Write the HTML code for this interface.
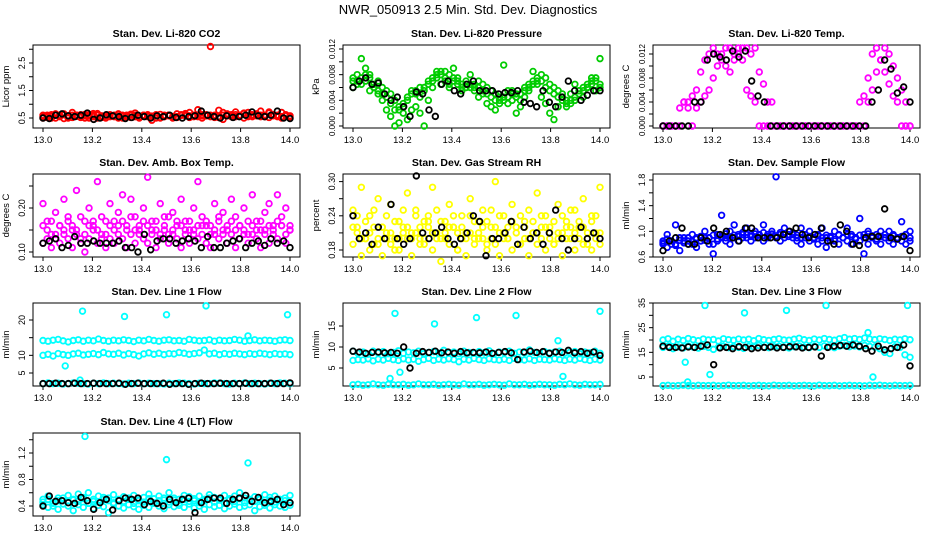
<!DOCTYPE html>
<html><head><meta charset="utf-8"><style>
body{margin:0;background:#fff;width:936px;height:540px;overflow:hidden}
svg text{font-family:"Liberation Sans",sans-serif}
</style></head><body>
<svg id="chart" width="936" height="540" xmlns="http://www.w3.org/2000/svg">
<text x="468" y="14" text-anchor="middle" font-size="13">NWR_050913  2.5 Min. Std. Dev. Diagnostics</text>
</svg>
<script>
const xTicks=[13.0,13.2,13.4,13.6,13.8,14.0];
const co2Red1=[.55,.6,.5,.65,.58,.62,.55,.7,.6,.52,.63,.57,.66,.6,.55,.5,.62,.58,.65,.6,.54,.6,.68,.55,.6,.62,.57,.5,.63,.6,.58,.55,.65,.6,.62,.7,.6,.8,.58,.62,3.1,.55,.78,.6,.65,.58,.72,.6,.66,.7,.62,.58,.75,.6,.68,.62,.58,.7,.6,.55];
const co2Red2=[.5,.55,.62,.5,.6,.48,.58,.52,.6,.55,.5,.62,.55,.5,.58,.52,.55,.6,.5,.57,.6,.52,.55,.5,.6,.55,.42,.58,.52,.55,.6,.5,.55,.62,.58,.52,.6,.55,.5,.58,.6,.52,.55,.45,.6,.55,.62,.58,.5,.55,.6,.65,.55,.58,.52,.6,.55,.5,.58,.52];
const co2Red3=[.6,.52,.57,.62,.55,.65,.5,.6,.56,.62,.58,.5,.6,.66,.52,.58,.6,.55,.62,.5,.58,.64,.6,.52,.57,.6,.55,.62,.5,.58,.6,.55,.52,.6,.66,.58,.55,.6,.62,.58,.55,.6,.52,.7,.58,.62,.55,.6,.68,.58,.55,.62,.6,.55,.72,.58,.6,.55,.62,.58];
const co2Blk=[.5,.48,.6,.65,.58,.55,.6,.68,.45,.5,.62,.58,.55,.48,.52,.6,.55,.5,.58,.55,.6,.52,.5,.55,.58,.75,.6,.55,.5,.58,.52,.55,.6,.72,.58,.55,.6,.75,.5,.48];
const presG1=[.007,.008,.0075,.007,.008,.0065,.007,.006,.0055,.005,.004,.003,.0035,.004,.005,.0055,.006,.0055,.0065,.007,.008,.0085,.0075,.008,.007,.0075,.0065,.007,.0065,.006,.007,.0065,.006,.0055,.005,.0045,.004,.0035,.005,.0045,.004,.0055,.006,.0065,.007,.008,.0075,.0065,.006,.0055,.005,.004,.0035,.004,.005,.0055,.006,.007,.0075,.0065];
const presG2=[.006,.0065,.0105,.009,.0055,.006,.005,.004,.0025,.0015,0,.0005,.002,.001,.0025,.003,.002,0,.004,.006,.0075,.0065,.0085,.006,.009,.007,.0055,.006,.008,.0065,.0045,.005,.0035,.003,.0025,.0035,.0095,.0055,.004,.002,.003,.0045,.0055,.0085,.0065,.0045,.0035,.002,.001,.003,.0045,.0035,.005,.0065,.0055,.0045,.006,.0075,.0055,.0105];
const presG3=[.0075,.007,.0065,.008,.0075,.006,.0055,.005,.0045,.0035,.0025,.0025,.003,.0045,.0055,.005,.0045,.006,.007,.0075,.0085,.008,.007,.0065,.0075,.0065,.006,.0065,.006,.0055,.006,.0055,.005,.0045,.004,.004,.0045,.0045,.0055,.005,.005,.006,.0065,.007,.0075,.007,.006,.0055,.005,.0045,.004,.003,.004,.0045,.0055,.006,.0065,.0065,.007,.006];
const presBlk=[.006,.007,.0075,.0065,.0067,.005,.004,.0045,.003,.0015,.0053,.005,.0025,.0015,.0065,.007,.0055,.005,.0065,.007,.0055,.0055,.0055,.005,.0052,.0052,.0055,.0037,.0035,.003,.0055,.0037,.003,.0045,.007,.0055,.004,.0048,.0055,.0055];
const tempM1=[0,0,0,0,0,.004,.004,0,.003,.004,.005,.006,.008,.01,.012,.013,.013,.012,.013,.011,.013,.012,.013,.009,.007,.004,.004,0,0,0,0,0,0,0,0,0,0,0,0,0,0,0,0,0,0,0,0,0,0,.004,.006,.009,.011,.013,.012,.01,.008,.006,.004,0];
const tempM2=[0,0,0,0,.003,.004,.003,.005,.006,.009,.011,.012,.013,.012,.011,.01,.009,.011,.012,.013,.006,.005,.004,0,0,0,0,0,0,0,0,0,0,0,0,0,0,0,0,0,0,0,0,0,0,0,0,.004,.005,.008,.012,.013,.011,.009,.007,.005,.004,0,0,0];
const tempBlk=[0,0,0,0,0,.004,.004,.011,.012,.0115,.011,.0125,.0115,.0125,.0075,.005,.004,0,0,0,0,0,0,0,0,0,0,0,0,0,0,0,0,.004,.006,.011,.0095,.0055,.0065,.004];
const ambM1=[.21,.17,.14,.19,.16,.22,.18,.15,.24,.13,.17,.2,.16,.26,.18,.14,.21,.17,.19,.23,.15,.22,.18,.16,.2,.27,.17,.15,.21,.18,.14,.19,.16,.22,.17,.15,.2,.26,.18,.16,.14,.21,.17,.19,.15,.22,.18,.16,.2,.14,.23,.17,.15,.19,.21,.16,.23,.18,.2,.15];
const ambM2=[.12,.13,.11,.14,.12,.15,.13,.11,.14,.12,.1,.13,.15,.12,.14,.11,.13,.12,.16,.13,.11,.14,.12,.15,.13,.12,.14,.11,.13,.15,.12,.14,.13,.11,.15,.12,.14,.13,.16,.12,.11,.14,.13,.15,.12,.14,.11,.13,.15,.12,.14,.13,.11,.15,.12,.14,.13,.16,.12,.15];
const ambM3=[.16,.15,.17,.13,.16,.14,.17,.16,.15,.18,.14,.16,.17,.15,.13,.17,.16,.15,.14,.17,.16,.18,.15,.14,.17,.16,.15,.17,.14,.16,.18,.15,.17,.16,.14,.17,.15,.16,.14,.17,.16,.15,.18,.14,.16,.17,.15,.16,.14,.17,.16,.15,.17,.14,.16,.15,.17,.16,.14,.16];
const ambBlk=[.12,.125,.13,.11,.115,.135,.12,.12,.125,.12,.12,.12,.125,.11,.11,.1,.14,.105,.125,.13,.13,.12,.125,.13,.125,.11,.135,.11,.11,.12,.125,.13,.11,.12,.125,.115,.13,.12,.125,.11];
const rhY1=[.25,.22,.29,.2,.24,.19,.27,.22,.2,.26,.18,.23,.21,.28,.2,.25,.22,.19,.24,.29,.21,.23,.2,.26,.22,.18,.24,.21,.27,.2,.23,.25,.19,.22,.3,.21,.24,.2,.26,.22,.19,.23,.25,.21,.28,.2,.24,.22,.19,.26,.21,.23,.2,.25,.22,.27,.19,.24,.21,.29];
const rhY2=[.19,.21,.17,.2,.18,.22,.2,.17,.21,.19,.2,.18,.22,.2,.17,.21,.19,.2,.23,.18,.2,.16,.21,.19,.22,.18,.2,.17,.21,.19,.2,.22,.18,.2,.19,.17,.21,.2,.18,.22,.19,.2,.17,.21,.19,.22,.18,.2,.19,.21,.17,.2,.22,.18,.2,.19,.21,.18,.2,.19];
const rhY3=[.22,.24,.2,.23,.21,.25,.19,.22,.24,.21,.23,.2,.25,.22,.21,.24,.2,.23,.22,.21,.25,.2,.23,.22,.24,.21,.22,.2,.24,.23,.21,.2,.23,.25,.22,.24,.2,.22,.23,.21,.24,.22,.2,.23,.21,.24,.22,.21,.23,.2,.24,.22,.25,.21,.23,.22,.2,.23,.24,.21];
const rhBlk=[.24,.2,.21,.19,.22,.2,.26,.2,.19,.2,.31,.21,.2,.21,.22,.2,.19,.2,.21,.24,.23,.17,.2,.2,.21,.23,.19,.22,.2,.21,.19,.21,.25,.2,.18,.2,.22,.2,.21,.2];
const sfB1=[.85,.95,.8,1.1,.9,.85,.8,.95,.9,.85,1.0,.9,.8,.95,1.25,.9,1.0,1.1,.95,.9,1.05,.95,1.0,.9,1.1,.95,1.0,1.85,.95,1.05,1.0,.95,.9,1.05,.95,1.0,.9,.95,1.05,.9,.85,1.0,.95,.9,1.05,.95,.9,1.2,.95,1.0,.9,.95,1.0,.9,1.0,.95,.9,1.15,.95,1.0];
const sfB2=[.8,.75,.85,.8,.7,.9,.85,.8,.75,.85,.9,.8,.65,.85,.9,.85,.8,.9,.85,.95,.9,.85,.9,.95,.85,.9,.95,.9,.85,.9,.95,.9,.85,.8,.9,.85,.9,.8,.85,.75,.9,.85,.8,.9,.85,.8,.9,.85,.65,.8,.9,.85,.8,.9,.85,.8,.9,.85,.8,.85];
const sfB3=[.82,.88,.85,.78,.86,.82,.9,.84,.88,.92,.86,.9,.94,.88,.92,.96,.9,.94,.92,.98,.95,.92,.96,.94,.98,.92,.96,.93,.98,.95,.92,.96,.94,.9,.95,.92,.88,.93,.9,.94,.92,.88,.94,.9,.95,.92,.88,.94,.9,.96,.93,.88,.92,.95,.9,.93,.88,.92,.95,.9];
const sfBlk=[.7,.85,.9,1.05,.8,.8,.9,.85,1.05,.95,1.0,.9,.85,1.05,1.05,.9,.9,.9,.9,.95,1.0,1.05,.95,.9,.95,1.05,.85,.8,1.1,1.0,.8,.78,.9,.92,.92,1.35,.9,.88,.92,.7];
const l1a=[14.2,14,14.3,14.5,14.1,13.8,14.2,14.4,14,14.3,14.1,14.6,14.2,14,14.3,14.1,14.4,14.2,13.9,14.3,14.1,14.5,14.2,14,14.3,14.4,14.1,14.2,14,14.5,14.3,14.1,14.2,14.4,14,14.3,14.1,14.2,14.5,14.3,14,14.2,14.4,14.1,14.3,14.2,14,14.3,14.4,14.2];
const l1b=[10,10.3,9.8,10.5,10.2,10,10.4,10.6,10.1,10.3,10.5,10.2,10.8,10.4,10.3,10.6,10.1,10.5,10.2,9.8,10.4,10.7,10.3,10.6,10.2,10.5,10.4,10.8,10.6,10.3,10.5,10.7,11.5,10.4,10.6,10.2,10.5,10.3,10.6,10.4,10.2,10.5,10.3,10.6,10.4,10.2,10.5,10.3,10.4,10.2];
const l1c=[2,2.2,2,2.1,1.9,2,2.2,2.1,2,1.9,2.1,2,2.2,2,2.1,2,1.9,2.1,2,2.2,2,2.1,2,2,1.9,2.1,2,2.2,2.1,2,1.9,2.1,2,2,2.2,2.1,2,1.9,2.1,2,2.2,2,2.1,2,1.9,2.1,2,2.2,2.1,2];
const l1OutX=[13.09,13.16,13.33,13.5,13.66,13.99,13.15,13.83];
const l1OutY=[7,22.5,21,21.5,24,21.5,3,15.5];
const l1Blk=[2,2,2.1,2,2,2.1,2,2,2.1,2,2,2,2.1,1.8,2,2.1,2,2,2,2.1,1.8,2,2,1.8,2,2.1,2,2,2.1,2,2,2,2.1,2,2,2,2.1,2,2,2.2];
const l2a=[9,8.5,8.8,8.3,9,8.6,8.9,8.4,8.7,9.1,8.5,8.8,8.6,9,8.4,8.7,8.9,8.5,9.2,8.6,8.8,8.4,9,8.7,8.5,8.9,8.6,9.1,8.4,8.8,8.7,9,8.5,8.8,8.6,9.3,8.7,8.4,8.9,8.6,8.8,9,8.5,8.7,8.9,8.4,8.8,8.6,9,8.5];
const l2b=[6.8,7,6.9,7.2,6.7,7.1,6.9,7.3,7,6.8,7.2,6.9,7.1,6.6,7,7.3,6.8,7.1,6.9,7.2,7,6.5,7.1,6.9,7.3,7,6.8,7.2,7,6.9,7.1,6.8,7.3,7,6.9,7.2,6.8,7.1,7,6.9,7.2,7,6.8,7.1,6.9,7.3,7,6.8,7.1,6.9];
const l2c=[1,1.1,0.9,1,1.2,1,0.9,1.1,1,1,1.1,0.9,1,1.2,1,1,1.1,0.9,1,1.1,1,0.9,1.2,1,1,1.1,0.9,1,1.1,1,0.9,1.2,1,1,1.1,0.9,1,1.1,1,1,0.9,1.1,1,1.2,1,0.9,1.1,1,1,1.1];
const l2OutX=[13.15,13.17,13.19,13.33,13.5,13.66,13.83,13.85,14.0];
const l2OutY=[2.5,18,4,15.5,17,17.5,11.5,3,18.5];
const l2Blk=[9,8.8,8.5,8.7,8.8,8.6,8.7,8.5,10,5,8.5,8.9,8.7,9,8.6,8.8,8.5,8.9,8.6,8.7,8.6,8.8,8.5,8.7,8.9,8.6,7,8.8,9,8.7,8.9,8.5,8.8,8.7,9.2,8.6,8.9,8.5,8.8,8];
const l3a=[20,20.5,19.5,20.3,19.8,20.6,20.1,19.7,20.4,20,20.2,19.6,20.5,20.1,19.9,20.4,20,20.3,19.7,20.6,20.1,19.8,20.2,20.5,20,19.9,20.3,20.7,20.1,19.8,20.4,20,20.6,20.2,19.9,20.5,21,20.3,20.6,20.2,20.8,20.4,20.1,20.5,20.2,19.8,20.3,20,20.5,20.1];
const l3b=[17,17.5,16.5,17.2,16.8,17.6,17.1,16.7,17.4,17,16.2,17.1,17.5,16.9,17.3,17,16.6,17.4,17.2,17.8,17.1,16.9,17.3,17.5,17,16.8,17.3,17.6,17.1,16.9,17.4,17,17.6,17.2,16.9,17.5,17.8,17.3,17.6,17.2,17.8,17.4,17.1,16.5,15,14.5,17.3,17,14,13];
const l3c=[1.5,1.6,1.4,1.5,1.7,1.5,1.4,1.6,1.5,1.5,1.6,1.4,1.5,1.7,1.5,1.5,1.6,1.4,1.5,1.6,1.5,1.4,1.7,1.5,1.5,1.6,1.4,1.5,1.6,1.5,1.4,1.7,1.5,1.5,1.6,1.4,1.5,1.6,1.5,1.5,1.4,1.6,1.5,1.7,1.5,1.4,1.6,1.5,1.5,1.6];
const l3OutX=[13.09,13.1,13.17,13.19,13.33,13.5,13.66,13.83,13.85,13.99];
const l3OutY=[11,3,34,6,31,32,34,23,5,34];
const l3Blk=[17.5,17,17,16.8,17.2,17,17.5,18,10,16.8,17,16.5,17.3,17,16.5,16.8,17,17.2,16.8,17,17.3,17.2,16.8,17,17.2,13.5,17,17.5,17.8,17.5,18,17.5,16.5,15.5,17.5,16,16.5,17,18,9.5];
const l4a=[.5,.55,.45,.52,.48,.56,.5,.58,.53,.6,.47,.55,.5,.52,.57,.49,.54,.5,.56,.48,.53,.58,.51,.55,.49,.6,.52,.5,.56,.54,.48,.55,.5,.57,.53,.49,.56,.51,.55,.6,.52,.48,.54,.5,.57,.53,.55,.49,.52,.56];
const l4b=[.42,.38,.4,.35,.43,.4,.33,.42,.38,.44,.36,.41,.39,.3,.43,.4,.37,.42,.39,.35,.41,.38,.44,.4,.36,.42,.39,.41,.38,.43,.37,.4,.35,.42,.39,.41,.36,.4,.43,.38,.4,.42,.33,.39,.41,.37,.42,.4,.38,.41];
const l4c=[.46,.5,.44,.48,.52,.45,.49,.47,.51,.44,.5,.46,.53,.48,.45,.5,.47,.52,.44,.49,.46,.51,.45,.48,.52,.46,.49,.44,.5,.47,.51,.45,.48,.52,.46,.5,.44,.49,.47,.51,.45,.5,.47,.52,.44,.49,.46,.5,.48,.45];
const l4OutX=[13.17,13.5,13.83];
const l4OutY=[1.45,1.1,1.05];
const l4Blk=[.4,.55,.47,.48,.45,.44,.53,.48,.35,.45,.5,.34,.48,.52,.5,.52,.42,.47,.44,.4,.5,.45,.5,.52,.3,.45,.5,.52,.52,.44,.5,.52,.56,.47,.53,.45,.47,.5,.42,.45];

const panels=[
 {name:"co2",title:"Stan. Dev. Li-820 CO2",ylab:"Licor ppm",col:0,row:0,ya:[0.5,118,2.5,63],ticks:[.5,1,1.5,2,2.5,3],labels:[.5,1.5,2.5],dec:1,fs:9,
  series:[["#ff0000",co2Red1],["#ff0000",co2Red2],["#ff0000",co2Red3],["#000000",co2Blk]]},
 {name:"pressure",title:"Stan. Dev. Li-820 Pressure",ylab:"kPa",col:1,row:0,ya:[0,126,0.012,49],ticks:[0,.002,.004,.006,.008,.01,.012],labels:[0,.004,.008,.012],dec:3,fs:8,
  series:[["#00cc00",presG1],["#00cc00",presG2],["#00cc00",presG3],["#000000",presBlk]]},
 {name:"temp",title:"Stan. Dev. Li-820 Temp.",ylab:"degrees C",col:2,row:0,ya:[0,126,0.012,54],ticks:[0,.002,.004,.006,.008,.01,.012],labels:[0,.004,.008,.012],dec:3,fs:8,
  series:[["#ff00ff",tempM1],["#ff00ff",tempM2],["#000000",tempBlk]]},
 {name:"amb-box-temp",title:"Stan. Dev. Amb. Box Temp.",ylab:"degrees C",col:0,row:1,ya:[0.1,252,0.2,208],ticks:[.1,.15,.2,.25],labels:[.1,.2],dec:2,fs:9,
  series:[["#ff00ff",ambM1],["#ff00ff",ambM2],["#ff00ff",ambM3],["#000000",ambBlk]]},
 {name:"gas-rh",title:"Stan. Dev. Gas Stream RH",ylab:"percent",col:1,row:1,ya:[0.18,250,0.30,181.6],ticks:[.18,.21,.24,.27,.30],labels:[.18,.24,.30],dec:2,fs:9,
  series:[["#ffff00",rhY1],["#ffff00",rhY2],["#ffff00",rhY3],["#000000",rhBlk]]},
 {name:"sample-flow",title:"Stan. Dev. Sample Flow",ylab:"ml/min",col:2,row:1,ya:[0.6,257,1.8,180],ticks:[.6,.8,1,1.2,1.4,1.6,1.8],labels:[.6,1,1.4,1.8],dec:1,fs:9,
  series:[["#0000ff",sfB1],["#0000ff",sfB2],["#0000ff",sfB3],["#000000",sfBlk]]},
 {name:"line1-flow",title:"Stan. Dev. Line 1 Flow",ylab:"ml/min",col:0,row:2,ya:[5,373,20,320],ticks:[5,10,15,20],labels:[5,10,20],dec:0,fs:9,
  series:[["#00ffff",l1a],["#00ffff",l1b],["#00ffff",l1c],["#00ffff",l1OutY,l1OutX],["#000000",l1Blk]]},
 {name:"line2-flow",title:"Stan. Dev. Line 2 Flow",ylab:"ml/min",col:1,row:2,ya:[5,368,15,326],ticks:[5,10,15],labels:[5,10,15],dec:0,fs:9,
  series:[["#00ffff",l2a],["#00ffff",l2b],["#00ffff",l2c],["#00ffff",l2OutY,l2OutX],["#000000",l2Blk]]},
 {name:"line3-flow",title:"Stan. Dev. Line 3 Flow",ylab:"ml/min",col:2,row:2,ya:[5,377,35,303],ticks:[5,10,15,20,25,30,35],labels:[5,15,25,35],dec:0,fs:9,
  series:[["#00ffff",l3a],["#00ffff",l3b],["#00ffff",l3c],["#00ffff",l3OutY,l3OutX],["#000000",l3Blk]]},
 {name:"line4-flow",title:"Stan. Dev. Line 4 (LT) Flow",ylab:"ml/min",col:0,row:3,ya:[0.4,506,1.2,453],ticks:[.4,.6,.8,1,1.2,1.4],labels:[.4,.8,1.2],dec:1,fs:9,
  series:[["#00ffff",l4a],["#00ffff",l4b],["#00ffff",l4c],["#00ffff",l4OutY,l4OutX],["#000000",l4Blk]]}
];
const svg=document.getElementById('chart');
const NS="http://www.w3.org/2000/svg";
function mk(tag,attrs,parent){const e=document.createElementNS(NS,tag);for(const k in attrs)e.setAttribute(k,attrs[k]);parent.appendChild(e);return e;}
const colX=[33,343,653], rowY=[45,174,303,433], W=267, H=83;
panels.forEach(p=>{
 const L=colX[p.col], T=rowY[p.row];
 const g=mk('g',{},svg);
 
 
 const xs=v=>L+10+(v-13)*247;
 const ys=v=>p.ya[1]+(v-p.ya[0])*(p.ya[3]-p.ya[1])/(p.ya[2]-p.ya[0]);
 const t=mk('text',{x:L+W/2,y:T-8,'text-anchor':'middle','font-size':10.5,'font-weight':'bold'},g);t.textContent=p.title;
 
 
 const yl=mk('text',{x:0,y:0,'text-anchor':'middle','font-size':9.5,transform:`translate(${L-24},${T+H/2}) rotate(-90)`},g);yl.textContent=p.ylab;
 
 
 const box=mk('rect',{x:L,y:T,width:W,height:H,fill:'none',stroke:'#000','stroke-width':1},g);
 
 
 xTicks.forEach(v=>{
  mk('line',{x1:xs(v),x2:xs(v),y1:T+H,y2:T+H+4,stroke:'#000'},g);
  const tl=mk('text',{x:xs(v),y:T+H+15,'text-anchor':'middle','font-size':9.5},g);tl.textContent=v.toFixed(1);
  
  
 });
 p.ticks.forEach(v=>{mk('line',{x1:L-4,x2:L,y1:ys(v),y2:ys(v),stroke:'#000'},g);});
 p.labels.forEach(v=>{
  const tl=mk('text',{x:0,y:0,'text-anchor':'middle','font-size':p.fs,transform:`translate(${L-8},${ys(v)}) rotate(-90)`},g);tl.textContent=v.toFixed(p.dec);
  
  
 });
 p.series.forEach(s=>{
  const vals=s[1], xv=s[2];
  vals.forEach((v,i)=>{
   const xval=xv?xv[i]:13+i/(vals.length-1);
   const c=mk('circle',{cx:xs(xval),cy:ys(v),r:2.8,fill:'none',stroke:s[0],'stroke-width':1.8},g);
   
   
  });
 });
});
</script>
</body></html>
